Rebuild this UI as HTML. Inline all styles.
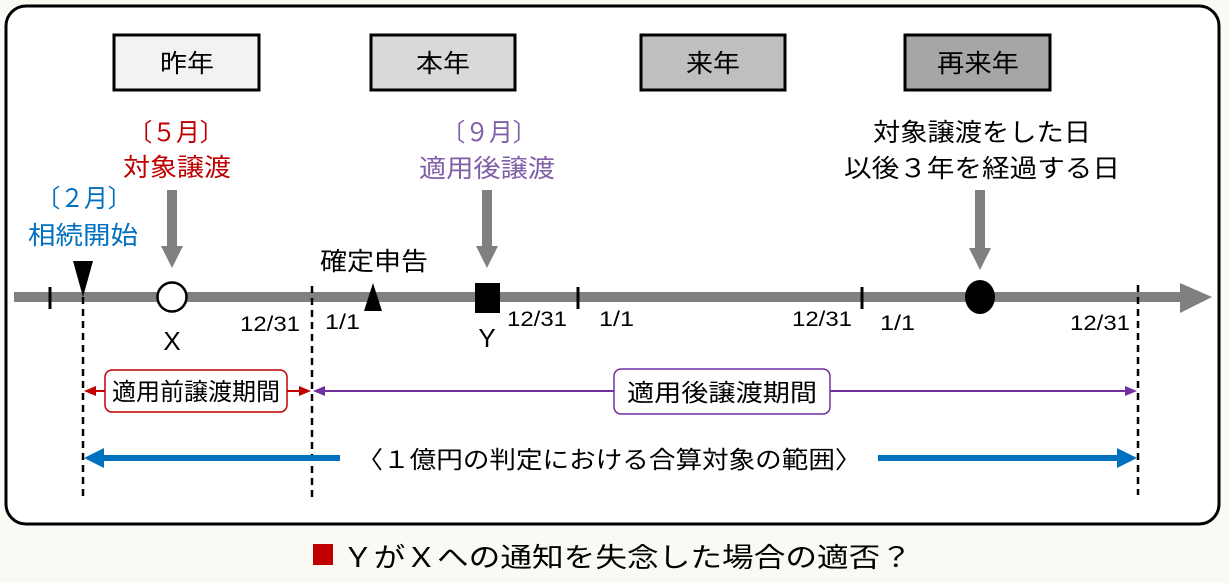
<!DOCTYPE html>
<html><head><meta charset="utf-8"><style>
html,body{margin:0;padding:0;background:#faf9f4;}
svg{display:block;}
text{font-family:"Liberation Sans","Noto Sans CJK JP",sans-serif;}
</style></head><body>
<svg width="1229" height="583" viewBox="0 0 1229 583" xmlns="http://www.w3.org/2000/svg">
<rect x="6" y="6" width="1213" height="518" rx="20" fill="#fff" stroke="#000" stroke-width="3"/>
<rect x="114" y="35" width="145" height="55" fill="#f2f2f2" stroke="#000" stroke-width="3"/>
<rect x="371" y="35" width="144" height="55" fill="#d9d9d9" stroke="#000" stroke-width="3"/>
<rect x="641" y="35" width="144" height="55" fill="#bfbfbf" stroke="#000" stroke-width="3"/>
<rect x="905" y="35" width="145" height="55" fill="#a6a6a6" stroke="#000" stroke-width="3"/>
<g font-size="25" text-anchor="middle" fill="#000" lengthAdjust="spacingAndGlyphs">
<text x="187" y="72" textLength="54" lengthAdjust="spacingAndGlyphs">昨年</text>
<text x="443" y="72" textLength="54" lengthAdjust="spacingAndGlyphs">本年</text>
<text x="713" y="72" textLength="54" lengthAdjust="spacingAndGlyphs">来年</text>
<text x="978" y="72" textLength="82" lengthAdjust="spacingAndGlyphs">再来年</text>
</g>
<g font-size="25" text-anchor="middle">
<text x="176" y="141" fill="#c00000" textLength="95" lengthAdjust="spacingAndGlyphs">〔５月〕</text>
<text x="177" y="176" fill="#c00000" textLength="108" lengthAdjust="spacingAndGlyphs">対象譲渡</text>
<text x="489" y="141" fill="#7f5fa8" textLength="95" lengthAdjust="spacingAndGlyphs">〔９月〕</text>
<text x="487" y="177" fill="#7f5fa8" textLength="136" lengthAdjust="spacingAndGlyphs">適用後譲渡</text>
<text x="84" y="207" fill="#0070c0" textLength="95" lengthAdjust="spacingAndGlyphs">〔２月〕</text>
<text x="83" y="244" fill="#0070c0" textLength="110" lengthAdjust="spacingAndGlyphs">相続開始</text>
<text x="982" y="141" fill="#000" textLength="218" lengthAdjust="spacingAndGlyphs">対象譲渡をした日</text>
<text x="982" y="177" fill="#000" textLength="276" lengthAdjust="spacingAndGlyphs">以後３年を経過する日</text>
<text x="374" y="270" fill="#000" textLength="108" lengthAdjust="spacingAndGlyphs">確定申告</text>
</g>
<g fill="#808080">
<rect x="167" y="190" width="10" height="58"/><path d="M161,246 L183,246 L172,268 z"/>
<rect x="482" y="190" width="10" height="58"/><path d="M476,246 L498,246 L487,268 z"/>
<rect x="975" y="190" width="10" height="60"/><path d="M969,248 L991,248 L980,270 z"/>
</g>
<rect x="14" y="292" width="1170" height="10" fill="#808080"/>
<path d="M1180,283 L1212,297 L1180,313 z" fill="#808080"/>
<g stroke="#000" stroke-width="3">
<line x1="50" y1="287" x2="50" y2="309"/>
<line x1="578" y1="287" x2="578" y2="309"/>
<line x1="862" y1="287" x2="862" y2="309"/>
</g>
<g stroke="#000" stroke-width="2.5" stroke-dasharray="7,5">
<line x1="83" y1="297" x2="83" y2="498"/>
<line x1="312" y1="286" x2="312" y2="498"/>
<line x1="1138" y1="285" x2="1138" y2="495"/>
</g>
<path d="M73,261 L93,261 L83,297 z" fill="#000"/>
<circle cx="172" cy="297" r="14.5" fill="#fff" stroke="#000" stroke-width="2.5"/>
<path d="M364,311 L382,311 L373,283 z" fill="#000"/>
<rect x="475" y="283" width="25" height="30" fill="#000"/>
<ellipse cx="980" cy="297" rx="15" ry="17" fill="#000"/>
<g font-size="21" fill="#000">
<text x="172" y="350" font-size="26" text-anchor="middle">X</text>
<text x="487" y="347" font-size="26" text-anchor="middle">Y</text>
<text x="240" y="331" textLength="60" lengthAdjust="spacingAndGlyphs">12/31</text>
<text x="325" y="329" textLength="35" lengthAdjust="spacingAndGlyphs">1/1</text>
<text x="507" y="326" textLength="60" lengthAdjust="spacingAndGlyphs">12/31</text>
<text x="599" y="326" textLength="35" lengthAdjust="spacingAndGlyphs">1/1</text>
<text x="792" y="326" textLength="60" lengthAdjust="spacingAndGlyphs">12/31</text>
<text x="880" y="330" textLength="35" lengthAdjust="spacingAndGlyphs">1/1</text>
<text x="1070" y="330" textLength="60" lengthAdjust="spacingAndGlyphs">12/31</text>
</g>
<line x1="90" y1="391" x2="305" y2="391" stroke="#c00000" stroke-width="2"/>
<path d="M84,391 L96,386 L96,396 z" fill="#c00000"/>
<path d="M311,391 L299,386 L299,396 z" fill="#c00000"/>
<rect x="105" y="370" width="182" height="42" rx="7" fill="#fff" stroke="#c00000" stroke-width="1.5"/>
<text x="196" y="400" font-size="24" text-anchor="middle" textLength="168" lengthAdjust="spacingAndGlyphs">適用前譲渡期間</text>
<line x1="318" y1="391" x2="1130" y2="391" stroke="#7030a0" stroke-width="2"/>
<path d="M313,391 L325,386 L325,396 z" fill="#7030a0"/>
<path d="M1137,391 L1125,386 L1125,396 z" fill="#7030a0"/>
<rect x="614" y="369" width="216" height="45" rx="7" fill="#fff" stroke="#7030a0" stroke-width="1.5"/>
<text x="722" y="401" font-size="24" text-anchor="middle" textLength="190" lengthAdjust="spacingAndGlyphs">適用後譲渡期間</text>
<rect x="100" y="455" width="240" height="6" fill="#0070c0"/>
<path d="M84,458 L104,448 L104,468 z" fill="#0070c0"/>
<rect x="878" y="455" width="244" height="6" fill="#0070c0"/>
<path d="M1137,458 L1117,448 L1117,468 z" fill="#0070c0"/>
<text x="609" y="468" font-size="24" text-anchor="middle" textLength="505" lengthAdjust="spacingAndGlyphs">〈１億円の判定における合算対象の範囲〉</text>
<rect x="313" y="544" width="20" height="21" fill="#c00000"/>
<text x="342" y="567" font-size="27" textLength="570" lengthAdjust="spacingAndGlyphs">ＹがＸへの通知を失念した場合の適否？</text>
</svg>
</body></html>
